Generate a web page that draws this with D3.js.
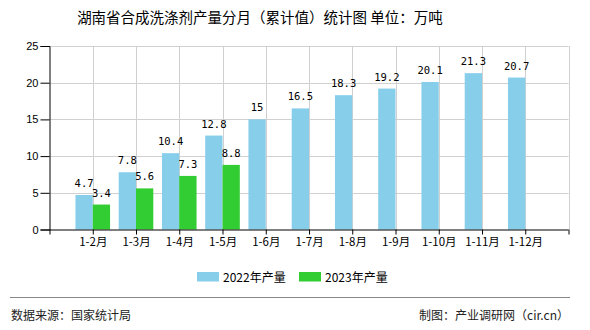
<!DOCTYPE html>
<html><head><meta charset="utf-8">
<script src="https://cdn.jsdelivr.net/npm/d3@7"></script>
<style>body{margin:0;background:#fff}svg{display:block}</style>
</head><body>
<script>
const categories = ["1-2月","1-3月","1-4月","1-5月","1-6月","1-7月","1-8月","1-9月","1-10月","1-11月","1-12月"];
const values2022 = [4.7,7.8,10.4,12.8,15,16.5,18.3,19.2,20.1,21.3,20.7];
const values2023 = [3.4,5.6,7.3,8.8,null,null,null,null,null,null,null];
const yTicks = [0,5,10,15,20,25];
const seriesNames = ["2022年产量","2023年产量"];
const colors = ["#87CEEB","#32CD32"];

const W=590,H=330;
const svg=d3.select("body").append("svg").attr("width",W).attr("height",H);
const L=49.5,R=568.5,T=46,B=229.5;
const domain=["_s",...categories,"_e"];
const x=d3.scalePoint().domain(domain).range([L,R]);
const y=d3.scaleLinear().domain([0,25]).range([B,T]);
const step=x.step(), bw=step*0.4;

const font="'Noto Sans CJK SC','Noto Sans',sans-serif";
svg.append("text").attr("x",260).attr("y",23).attr("text-anchor","middle")
  .attr("font-family",font).attr("font-size",14.5).attr("fill","#000")
  .text("湖南省合成洗涤剂产量分月（累计值）统计图 单位：万吨");

// gridlines
const g=svg.append("g");
g.selectAll(".hg").data(yTicks.filter(d=>d>0)).join("line")
  .attr("x1",L).attr("x2",R).attr("y1",d=>Math.round(y(d))+0.5).attr("y2",d=>Math.round(y(d))+0.5)
  .attr("stroke","#d0d0d0");
g.selectAll(".vg").data(domain.slice(1)).join("line")
  .attr("x1",d=>Math.round(x(d))+0.5).attr("x2",d=>Math.round(x(d))+0.5).attr("y1",T).attr("y2",B)
  .attr("stroke","#d0d0d0");

// bars
const sets=[values2022,values2023];
sets.forEach((vals,si)=>{
  const data=categories.map((c,i)=>({c,v:vals[i]})).filter(d=>d.v!=null);
  svg.append("g").selectAll("rect").data(data).join("rect")
    .attr("x",d=>x(d.c)-bw+si*bw).attr("width",bw)
    .attr("y",d=>y(d.v)).attr("height",d=>y(0)-y(d.v))
    .attr("fill",colors[si]);
  svg.append("g").selectAll("text").data(data).join("text")
    .attr("x",d=>x(d.c)-bw/2+si*bw).attr("y",d=>y(d.v)-8)
    .attr("text-anchor","middle").attr("font-family","'DejaVu Sans Mono',monospace")
    .attr("font-size",10.5).attr("fill","#000").text(d=>d.v);
});

// axes
const yAxis=d3.axisLeft(y).tickValues(yTicks).tickSize(9).tickPadding(2);
const ya=svg.append("g").attr("transform",`translate(${L},0)`).call(yAxis);
ya.select(".domain").attr("stroke","#000");
ya.selectAll("text").attr("font-family","'Liberation Sans',Arial,sans-serif").attr("font-size",11).attr("fill","#000");
const xAxis=d3.axisBottom(x).tickSize(5).tickPadding(3).tickFormat(d=>d.startsWith("_")?"":d);
const xa=svg.append("g").attr("transform",`translate(0,${B})`).call(xAxis);
xa.select(".domain").attr("stroke","#000").attr("d",`M${L},0.5H${R}`);
xa.selectAll("text").attr("font-family",font).attr("font-size",11.5).attr("fill","#000");

// legend
const lg=svg.append("g");
[[197,223],[299,325]].forEach((p,i)=>{
  lg.append("rect").attr("x",p[0]).attr("y",272).attr("width",22).attr("height",9.5).attr("fill",colors[i]);
  lg.append("text").attr("x",p[1]).attr("y",281.5).attr("font-family",font).attr("font-size",12).attr("fill","#000").text(seriesNames[i]);
});

// footer
svg.append("line").attr("x1",10).attr("x2",570).attr("y1",297.5).attr("y2",297.5).attr("stroke","#888");
svg.append("text").attr("x",11).attr("y",320).attr("font-family",font).attr("font-size",12).attr("fill","#222").text("数据来源：国家统计局");
svg.append("text").attr("x",569).attr("y",320).attr("text-anchor","end").attr("font-family",font).attr("font-size",12).attr("fill","#222").text("制图：产业调研网（cir.cn）");
</script>
</body></html>
